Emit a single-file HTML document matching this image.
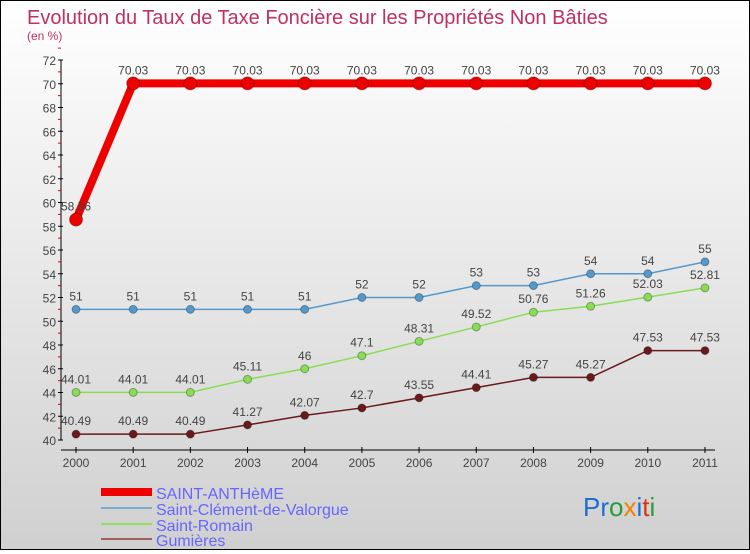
<!DOCTYPE html>
<html><head><meta charset="utf-8"><style>
html,body{margin:0;padding:0}
body{width:750px;height:550px;overflow:hidden}
#wrap{position:relative;width:748px;height:548px;border:1px solid #000;background:linear-gradient(#ffffff,#d0d0d0);font-family:"Liberation Sans","DejaVu Sans",sans-serif}
</style></head><body>
<div id="wrap">
<svg id="chart" width="748" height="548" xmlns="http://www.w3.org/2000/svg">
<text x="26" y="23" font-size="20" fill="#c03060">Evolution du Taux de Taxe Foncière sur les Propriétés Non Bâties</text>
<text x="26" y="39" font-size="12" fill="#c03060">(en %)</text>
<g id="axes"></g><g id="series"></g>
<g>
<line x1="100" y1="491" x2="151" y2="491" stroke="#ee0000" stroke-width="8"/>
<text x="155" y="498" font-size="16" fill="#6666ff">SAINT-ANTHèME</text>
<line x1="100" y1="507" x2="151" y2="507" stroke="#7aaed0" stroke-width="2"/>
<text x="155" y="514" font-size="16" fill="#6666ff">Saint-Clément-de-Valorgue</text>
<line x1="100" y1="523" x2="151" y2="523" stroke="#90e060" stroke-width="2"/>
<text x="155" y="530" font-size="16" fill="#6666ff">Saint-Romain</text>
<line x1="100" y1="538" x2="151" y2="538" stroke="#a06060" stroke-width="2"/>
<text x="155" y="545" font-size="16" fill="#6666ff">Gumières</text>
</g>
<g font-size="26" font-family="Liberation Sans, sans-serif">
<text x="582" y="515"><tspan fill="#1a6fd0">Pr</tspan><tspan fill="#2a9a3a">o</tspan><tspan fill="#f08000">x</tspan><tspan fill="#1a6fd0">i</tspan><tspan fill="#e03010">t</tspan><tspan fill="#2a9a3a">i</tspan></text>
</g>
</svg>
</div>
<script>
const years=["2000","2001","2002","2003","2004","2005","2006","2007","2008","2009","2010","2011"];
const yTicks=[40,42,44,46,48,50,52,54,56,58,60,62,64,66,68,70,72];
const antheme=[58.56,70.03,70.03,70.03,70.03,70.03,70.03,70.03,70.03,70.03,70.03,70.03];
const anthemeLabels=["58.56","70.03","70.03","70.03","70.03","70.03","70.03","70.03","70.03","70.03","70.03","70.03"];
const clement=[51,51,51,51,51,52,52,53,53,54,54,55];
const clementLabels=["51","51","51","51","51","52","52","53","53","54","54","55"];
const romain=[44.01,44.01,44.01,45.11,46,47.1,48.31,49.52,50.76,51.26,52.03,52.81];
const romainLabels=["44.01","44.01","44.01","45.11","46","47.1","48.31","49.52","50.76","51.26","52.03","52.81"];
const gumieres=[40.49,40.49,40.49,41.27,42.07,42.7,43.55,44.41,45.27,45.27,47.53,47.53];
const gumieresLabels=["40.49","40.49","40.49","41.27","42.07","42.7","43.55","44.41","45.27","45.27","47.53","47.53"];
const NS="http://www.w3.org/2000/svg";
function X(i){return 75+i*57.18;}
function Y(v){return 439-(v-40)*11.875;}
function mk(t,a,p){const e=document.createElementNS(NS,t);for(const k in a)e.setAttribute(k,a[k]);p.appendChild(e);return e;}
const ax=document.getElementById('axes');
let yl=mk('line',{x1:60,y1:Y(72),x2:60,y2:Y(40),stroke:'#000'},ax);


let xl=mk('line',{x1:60,y1:449,x2:X(11)+10,y2:449,stroke:'#000'},ax);


yTicks.forEach(v=>{
  mk('line',{x1:57,y1:Y(v),x2:62,y2:Y(v),stroke:'#000'},ax);
  mk('line',{x1:57,y1:Y(v+1),x2:60,y2:Y(v+1),stroke:'#e00000'},ax);
  const t=mk('text',{x:55,y:Y(v)+5,'text-anchor':'end','font-size':12,fill:'#444'},ax);
  t.textContent=v;
  
  
});
years.forEach((y,i)=>{
  mk('line',{x1:X(i),y1:446,x2:X(i),y2:452,stroke:'#000'},ax);
  const t=mk('text',{x:X(i),y:466,'text-anchor':'middle','font-size':12,fill:'#444'},ax);
  t.textContent=y;
  
  
});
const sg=document.getElementById('series');
function series(vals,labels,color,w,r,name){
  const g=mk('g',{},sg);
  
  
  const p=mk('polyline',{points:vals.map((v,i)=>X(i)+','+Y(v)).join(' '),fill:'none',stroke:color,'stroke-width':w},g);
  
  
  vals.forEach((v,i)=>{
    const c=mk('circle',{cx:X(i),cy:Y(v),r:r,fill:color,stroke:'rgba(0,0,0,0.3)','stroke-width':1},g);
    
    
    const t=mk('text',{x:X(i),y:Y(v)-9,'text-anchor':'middle','font-size':12,fill:'#444'},g);
    t.textContent=labels[i];
    
    
  });
}
series(gumieres,gumieresLabels,'#6a1a1a',1.5,4,'gumieres');
series(romain,romainLabels,'#88dd55',1.5,4,'saint-romain');
series(clement,clementLabels,'#5599cc',1.5,4,'saint-clement');
series(antheme,anthemeLabels,'#ee0000',8,6.5,'saint-antheme');
</script>
</body></html>
